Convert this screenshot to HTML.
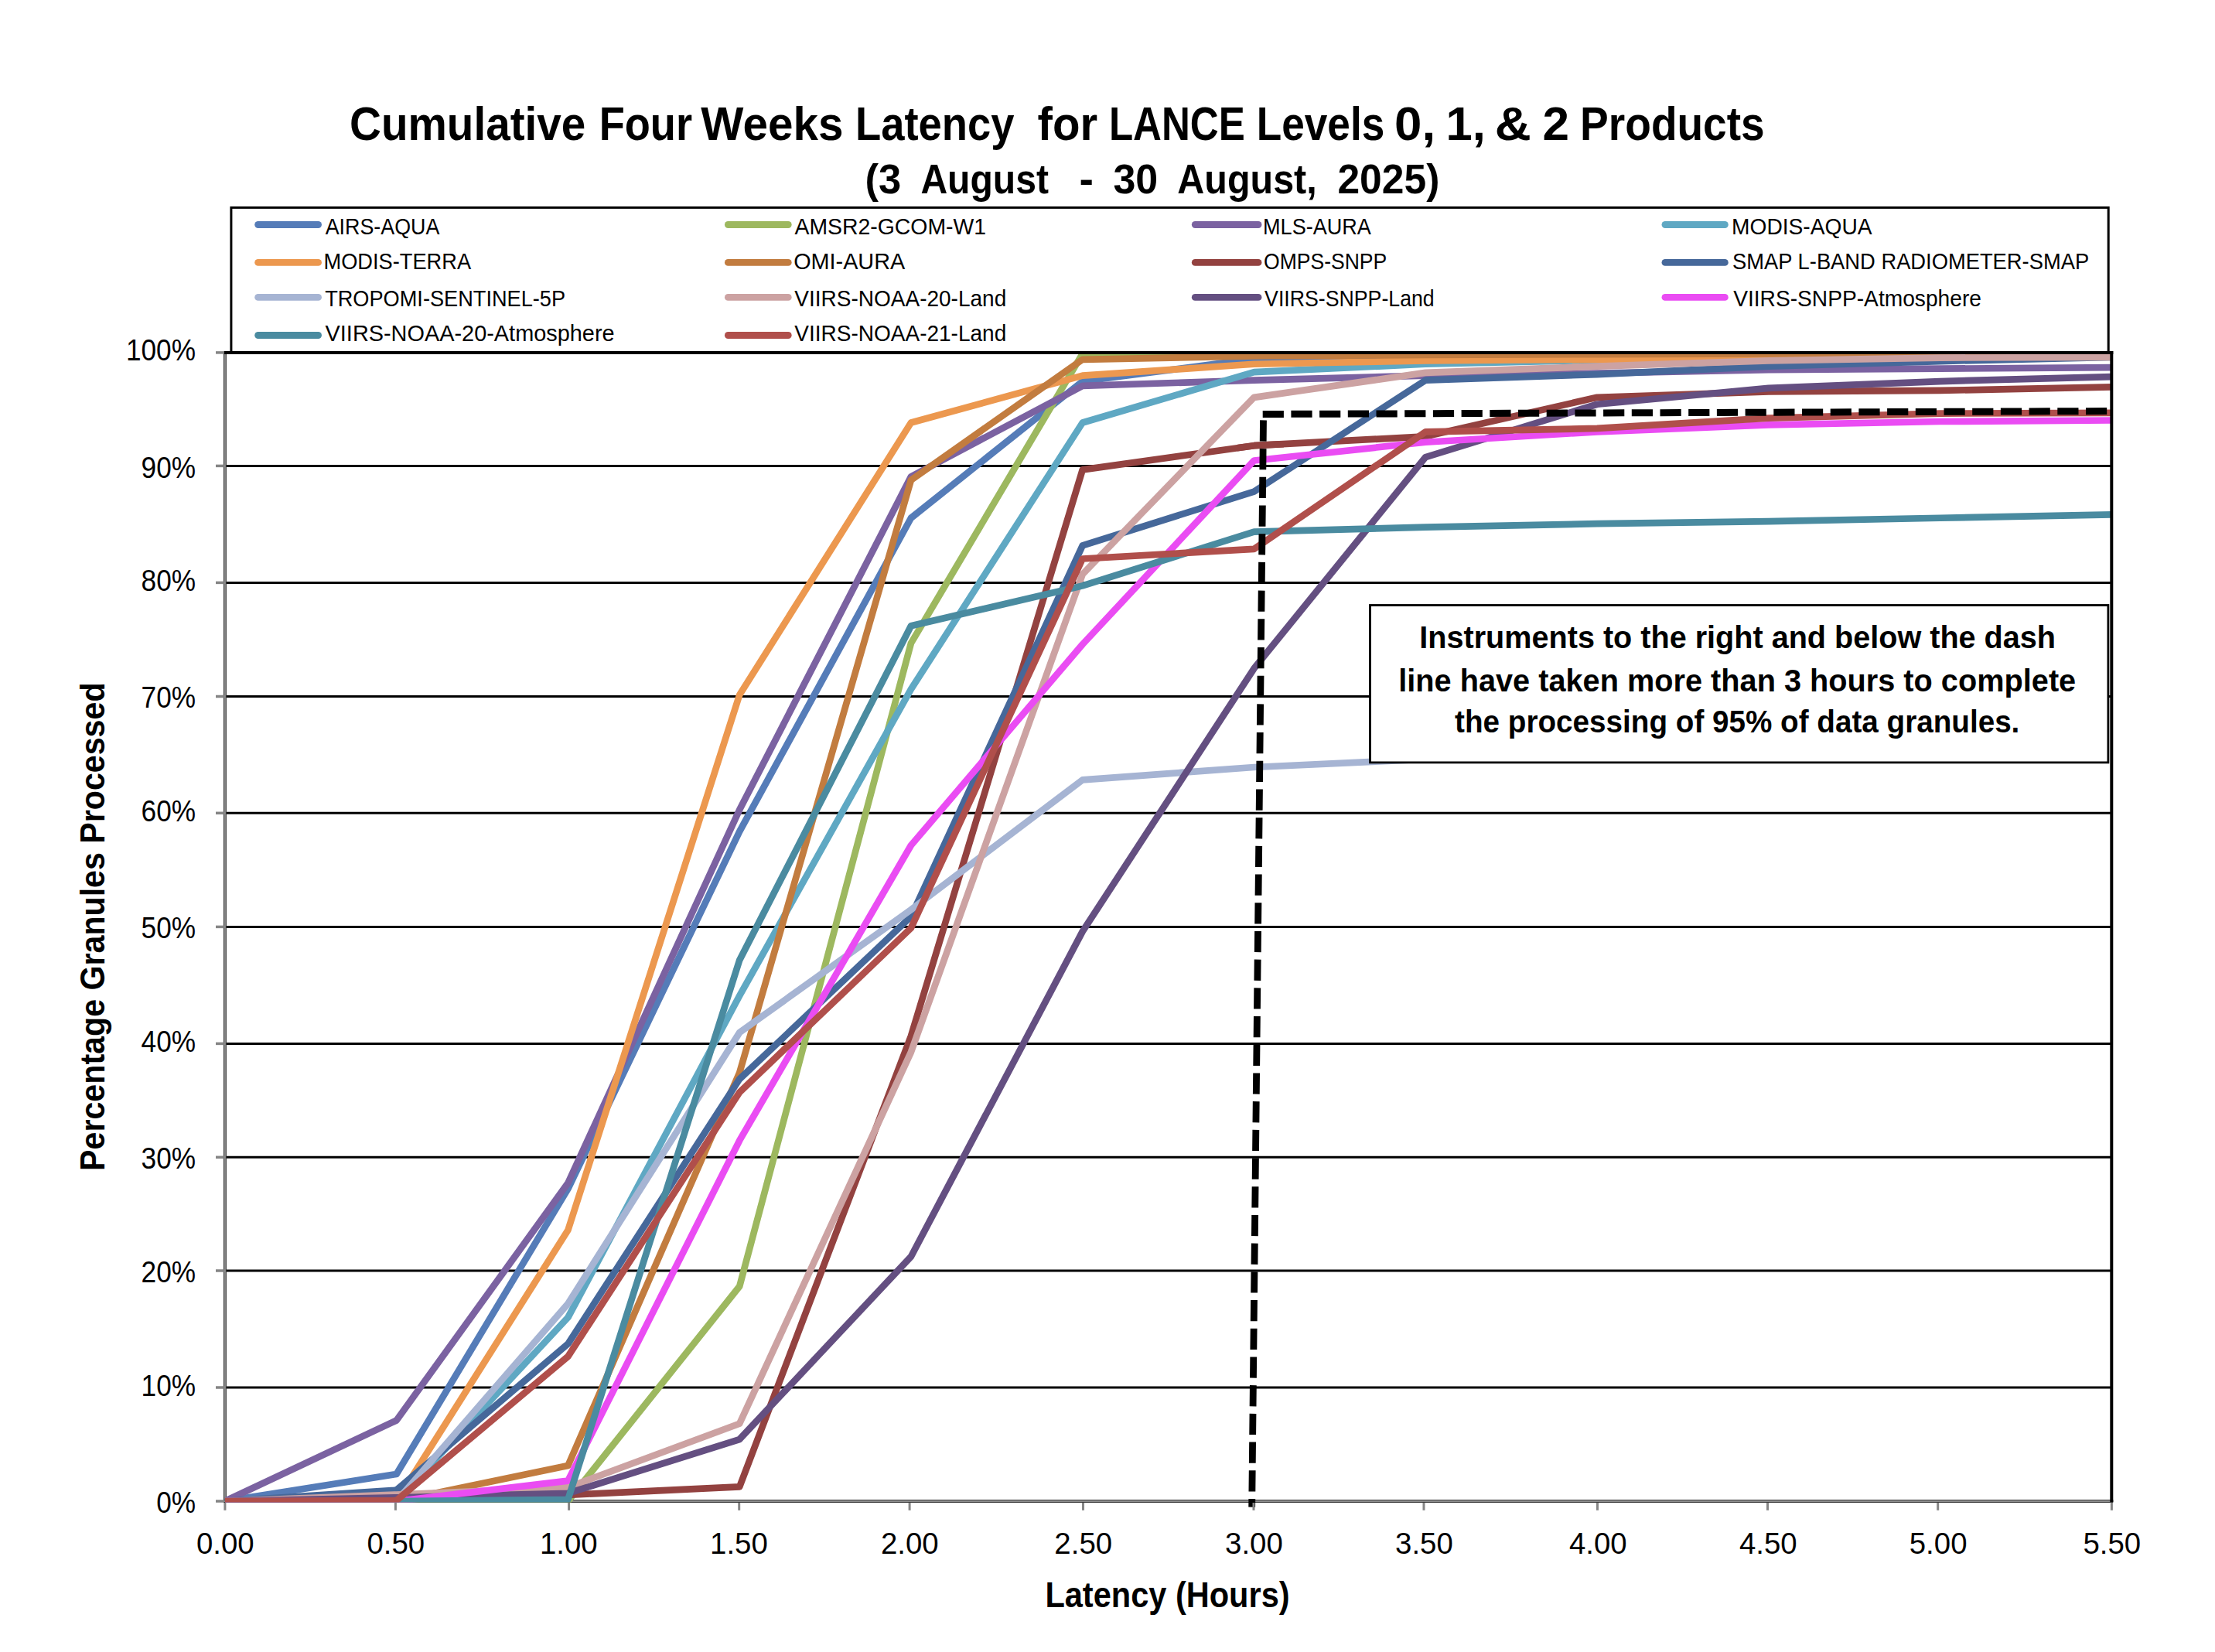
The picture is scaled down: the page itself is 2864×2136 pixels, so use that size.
<!DOCTYPE html><html><head><meta charset="utf-8"><style>html,body{margin:0;padding:0;background:#fff;}svg{display:block;}text{font-family:"Liberation Sans",sans-serif;white-space:pre;}</style></head><body>
<svg width="2864" height="2136" viewBox="0 0 2864 2136">
<rect x="0" y="0" width="2864" height="2136" fill="#ffffff"/>
<text transform="translate(452.03 181.20) scale(0.9238 1)" font-size="61.30" font-weight="bold" fill="#000">Cumulative</text>
<text transform="translate(774.68 181.20) scale(0.8837 1)" font-size="61.30" font-weight="bold" fill="#000">Four</text>
<text transform="translate(906.30 181.20) scale(0.9535 1)" font-size="61.30" font-weight="bold" fill="#000">Weeks</text>
<text transform="translate(1105.96 181.20) scale(0.8873 1)" font-size="61.30" font-weight="bold" fill="#000">Latency</text>
<text transform="translate(1341.53 181.20) scale(0.9487 1)" font-size="61.30" font-weight="bold" fill="#000">for</text>
<text transform="translate(1433.88 181.20) scale(0.8332 1)" font-size="61.30" font-weight="bold" fill="#000">LANCE</text>
<text transform="translate(1624.74 181.20) scale(0.8674 1)" font-size="61.30" font-weight="bold" fill="#000">Levels</text>
<text transform="translate(1803.06 181.20) scale(1.0372 1)" font-size="61.30" font-weight="bold" fill="#000">0,</text>
<text transform="translate(1869.61 181.20) scale(1.0042 1)" font-size="61.30" font-weight="bold" fill="#000">1,</text>
<text transform="translate(1932.67 181.20) scale(1.0622 1)" font-size="61.30" font-weight="bold" fill="#000">&amp;</text>
<text transform="translate(1994.43 181.20) scale(1.0127 1)" font-size="61.30" font-weight="bold" fill="#000">2</text>
<text transform="translate(2043.12 181.20) scale(0.8981 1)" font-size="61.30" font-weight="bold" fill="#000">Products</text>
<text transform="translate(1118.47 249.90) scale(0.9799 1)" font-size="53.62" font-weight="bold" fill="#000">(3</text>
<text transform="translate(1190.40 249.90) scale(0.8966 1)" font-size="53.62" font-weight="bold" fill="#000">August</text>
<text transform="translate(1395.39 249.90) scale(1.0312 1)" font-size="53.62" font-weight="bold" fill="#000">-</text>
<text transform="translate(1439.40 249.90) scale(0.9690 1)" font-size="53.62" font-weight="bold" fill="#000">30</text>
<text transform="translate(1522.29 249.90) scale(0.9042 1)" font-size="53.62" font-weight="bold" fill="#000">August,</text>
<text transform="translate(1729.39 249.90) scale(0.9622 1)" font-size="53.62" font-weight="bold" fill="#000">2025)</text>
<line x1="290.9" y1="602.4" x2="2730.3" y2="602.4" stroke="#000" stroke-width="3"/>
<line x1="290.9" y1="753.4" x2="2730.3" y2="753.4" stroke="#000" stroke-width="3"/>
<line x1="290.9" y1="900.5" x2="2730.3" y2="900.5" stroke="#000" stroke-width="3"/>
<line x1="290.9" y1="1051.3" x2="2730.3" y2="1051.3" stroke="#000" stroke-width="3"/>
<line x1="290.9" y1="1198.4" x2="2730.3" y2="1198.4" stroke="#000" stroke-width="3"/>
<line x1="290.9" y1="1349.4" x2="2730.3" y2="1349.4" stroke="#000" stroke-width="3"/>
<line x1="290.9" y1="1496.3" x2="2730.3" y2="1496.3" stroke="#000" stroke-width="3"/>
<line x1="290.9" y1="1643.0" x2="2730.3" y2="1643.0" stroke="#000" stroke-width="3"/>
<line x1="290.9" y1="1794.0" x2="2730.3" y2="1794.0" stroke="#000" stroke-width="3"/>
<line x1="290.9" y1="455.9" x2="290.9" y2="1943.0" stroke="#3a3a3a" stroke-width="4"/>
<line x1="290.9" y1="455.9" x2="290.9" y2="1943.0" stroke="#8c8c8c" stroke-width="2"/>
<line x1="288.9" y1="1941.0" x2="2732.3" y2="1941.0" stroke="#3a3a3a" stroke-width="4"/>
<line x1="288.9" y1="1941.0" x2="2732.3" y2="1941.0" stroke="#8c8c8c" stroke-width="2"/>
<defs><clipPath id="pc"><rect x="290.9" y="455.9" width="2439.4" height="1486.6"/></clipPath></defs>
<g clip-path="url(#pc)">
<polyline points="290.90,1941.00 512.66,1905.95 734.43,1537.05 956.19,1075.19 1177.95,669.75 1399.72,493.03 1621.48,464.07 1843.25,461.84 2065.01,460.36 2286.77,458.87 2508.54,458.13 2730.30,457.39" fill="none" stroke="#557CB8" stroke-width="8.7" stroke-linejoin="round" stroke-linecap="butt"/>
<polyline points="290.90,1941.00 512.66,1941.00 734.43,1941.00 956.19,1663.29 1177.95,831.63 1399.72,457.39 1621.48,455.90 1843.25,455.90 2065.01,455.90 2286.77,455.90 2508.54,455.90 2730.30,455.90" fill="none" stroke="#9DB85F" stroke-width="8.7" stroke-linejoin="round" stroke-linecap="butt"/>
<polyline points="290.90,1941.00 512.66,1836.45 734.43,1529.63 956.19,1046.97 1177.95,616.29 1399.72,498.97 1621.48,491.54 1843.25,485.60 2065.01,482.63 2286.77,478.18 2508.54,476.69 2730.30,475.21" fill="none" stroke="#7B62A1" stroke-width="8.7" stroke-linejoin="round" stroke-linecap="butt"/>
<polyline points="290.90,1941.00 512.66,1941.00 734.43,1703.38 956.19,1287.56 1177.95,891.03 1399.72,546.49 1621.48,481.15 1843.25,470.75 2065.01,465.55 2286.77,464.07 2508.54,462.58 2730.30,460.36" fill="none" stroke="#5FA8C3" stroke-width="8.7" stroke-linejoin="round" stroke-linecap="butt"/>
<polyline points="290.90,1941.00 512.66,1941.00 734.43,1590.52 956.19,898.46 1177.95,546.49 1399.72,485.60 1621.48,470.75 1843.25,466.30 2065.01,464.81 2286.77,463.33 2508.54,461.84 2730.30,460.36" fill="none" stroke="#EC984F" stroke-width="8.7" stroke-linejoin="round" stroke-linecap="butt"/>
<polyline points="290.90,1941.00 512.66,1941.00 734.43,1894.96 956.19,1387.06 1177.95,620.75 1399.72,464.81 1621.48,460.36 1843.25,458.87 2065.01,458.13 2286.77,457.39 2508.54,457.39 2730.30,457.39" fill="none" stroke="#C27C3F" stroke-width="8.7" stroke-linejoin="round" stroke-linecap="butt"/>
<polyline points="290.90,1941.00 512.66,1936.54 734.43,1932.83 956.19,1922.44 1177.95,1339.53 1399.72,607.38 1621.48,576.19 1843.25,564.31 2065.01,513.82 2286.77,506.39 2508.54,504.91 2730.30,500.45" fill="none" stroke="#934240" stroke-width="8.7" stroke-linejoin="round" stroke-linecap="butt"/>
<polyline points="290.90,1941.00 512.66,1926.59 734.43,1737.54 956.19,1395.23 1177.95,1185.08 1399.72,705.40 1621.48,635.60 1843.25,491.54 2065.01,484.12 2286.77,473.72 2508.54,467.04 2730.30,461.84" fill="none" stroke="#46689A" stroke-width="8.7" stroke-linejoin="round" stroke-linecap="butt"/>
<polyline points="290.90,1941.00 512.66,1941.00 734.43,1685.56 956.19,1335.08 1177.95,1176.17 1399.72,1008.36 1621.48,992.02 1843.25,981.63 2065.01,975.68" fill="none" stroke="#A6B4D3" stroke-width="8.7" stroke-linejoin="round" stroke-linecap="butt"/>
<polyline points="290.90,1941.00 512.66,1932.53 734.43,1923.18 956.19,1840.76 1177.95,1360.33 1399.72,742.52 1621.48,513.82 1843.25,481.89 2065.01,473.72 2286.77,466.30 2508.54,462.58 2730.30,461.84" fill="none" stroke="#CCA2A2" stroke-width="8.7" stroke-linejoin="round" stroke-linecap="butt"/>
<polyline points="290.90,1941.00 512.66,1936.25 734.43,1930.75 956.19,1861.10 1177.95,1624.67 1399.72,1204.39 1621.48,864.30 1843.25,591.04 2065.01,522.73 2286.77,501.94 2508.54,493.03 2730.30,487.09" fill="none" stroke="#644F81" stroke-width="8.7" stroke-linejoin="round" stroke-linecap="butt"/>
<polyline points="290.90,1941.00 512.66,1941.00 734.43,1914.57 956.19,1474.68 1177.95,1093.01 1399.72,833.12 1621.48,595.50 1843.25,571.74 2065.01,558.37 2286.77,549.46 2508.54,545.01 2730.30,543.52" fill="none" stroke="#EA4CF3" stroke-width="8.7" stroke-linejoin="round" stroke-linecap="butt"/>
<polyline points="290.90,1941.00 512.66,1941.00 734.43,1938.77 956.19,1241.52 1177.95,809.35 1399.72,757.38 1621.48,687.58 1843.25,681.64 2065.01,677.18 2286.77,674.21 2508.54,669.75 2730.30,665.30" fill="none" stroke="#4A8BA0" stroke-width="8.7" stroke-linejoin="round" stroke-linecap="butt"/>
<polyline points="290.90,1941.00 512.66,1940.11 734.43,1753.88 956.19,1412.30 1177.95,1199.94 1399.72,722.48 1621.48,709.85 1843.25,558.37 2065.01,553.92 2286.77,540.55 2508.54,534.61 2730.30,533.87" fill="none" stroke="#B04F4B" stroke-width="8.7" stroke-linejoin="round" stroke-linecap="butt"/>
</g>
<line x1="1633.5" y1="543.4" x2="1618.7" y2="1948.6" stroke="#000" stroke-width="8.8" stroke-dasharray="27.2 9.5"/>
<line x1="1632.7" y1="535.5" x2="2727" y2="531.6" stroke="#000" stroke-width="9.0" stroke-dasharray="27.2 9.5"/>
<g><clipPath id="oc"><rect x="1600" y="540" width="60" height="60"/></clipPath></g>
<g clip-path="url(#oc)"><polyline points="290.90,1941.00 512.66,1936.54 734.43,1932.83 956.19,1922.44 1177.95,1339.53 1399.72,607.38 1621.48,576.19 1843.25,564.31 2065.01,513.82 2286.77,506.39 2508.54,504.91 2730.30,500.45" fill="none" stroke="#934240" stroke-width="8.7" stroke-linejoin="round" stroke-linecap="butt"/></g>
<line x1="289.4" y1="455.9" x2="2732.3" y2="455.9" stroke="#000" stroke-width="4"/>
<line x1="2730.3" y1="453.9" x2="2730.3" y2="1942.0" stroke="#000" stroke-width="4"/>
<line x1="290.9" y1="1943.0" x2="290.9" y2="1952.8" stroke="#858585" stroke-width="3"/>
<line x1="511.4" y1="1943.0" x2="511.4" y2="1952.8" stroke="#858585" stroke-width="3"/>
<line x1="735.6" y1="1943.0" x2="735.6" y2="1952.8" stroke="#858585" stroke-width="3"/>
<line x1="955.7" y1="1943.0" x2="955.7" y2="1952.8" stroke="#858585" stroke-width="3"/>
<line x1="1176.1" y1="1943.0" x2="1176.1" y2="1952.8" stroke="#858585" stroke-width="3"/>
<line x1="1400.5" y1="1943.0" x2="1400.5" y2="1952.8" stroke="#858585" stroke-width="3"/>
<line x1="1621.0" y1="1943.0" x2="1621.0" y2="1952.8" stroke="#858585" stroke-width="3"/>
<line x1="1841.0" y1="1943.0" x2="1841.0" y2="1952.8" stroke="#858585" stroke-width="3"/>
<line x1="2065.5" y1="1943.0" x2="2065.5" y2="1952.8" stroke="#858585" stroke-width="3"/>
<line x1="2285.5" y1="1943.0" x2="2285.5" y2="1952.8" stroke="#858585" stroke-width="3"/>
<line x1="2505.7" y1="1943.0" x2="2505.7" y2="1952.8" stroke="#858585" stroke-width="3"/>
<line x1="2730.4" y1="1943.0" x2="2730.4" y2="1952.8" stroke="#858585" stroke-width="3"/>
<line x1="279" y1="455.9" x2="289.9" y2="455.9" stroke="#858585" stroke-width="3.5"/>
<line x1="279" y1="602.4" x2="289.9" y2="602.4" stroke="#858585" stroke-width="3.5"/>
<line x1="279" y1="753.4" x2="289.9" y2="753.4" stroke="#858585" stroke-width="3.5"/>
<line x1="279" y1="900.5" x2="289.9" y2="900.5" stroke="#858585" stroke-width="3.5"/>
<line x1="279" y1="1051.3" x2="289.9" y2="1051.3" stroke="#858585" stroke-width="3.5"/>
<line x1="279" y1="1198.4" x2="289.9" y2="1198.4" stroke="#858585" stroke-width="3.5"/>
<line x1="279" y1="1349.4" x2="289.9" y2="1349.4" stroke="#858585" stroke-width="3.5"/>
<line x1="279" y1="1496.3" x2="289.9" y2="1496.3" stroke="#858585" stroke-width="3.5"/>
<line x1="279" y1="1643.0" x2="289.9" y2="1643.0" stroke="#858585" stroke-width="3.5"/>
<line x1="279" y1="1794.0" x2="289.9" y2="1794.0" stroke="#858585" stroke-width="3.5"/>
<line x1="279" y1="1941.0" x2="289.9" y2="1941.0" stroke="#858585" stroke-width="3.5"/>
<rect x="298.9" y="268.4" width="2427.3" height="187" fill="none" stroke="#000" stroke-width="3"/>
<line x1="333.7" y1="290.5" x2="411.5" y2="290.5" stroke="#557CB8" stroke-width="8.9" stroke-linecap="round"/>
<text transform="translate(420.70 302.70) scale(0.9173 1)" font-size="29.28" font-weight="normal" fill="#000">AIRS-AQUA</text>
<line x1="941.4" y1="290.5" x2="1019.2" y2="290.5" stroke="#9DB85F" stroke-width="8.9" stroke-linecap="round"/>
<text transform="translate(1027.50 302.70) scale(0.9698 1)" font-size="29.28" font-weight="normal" fill="#000">AMSR2-GCOM-W1</text>
<line x1="1545.3000000000002" y1="290.5" x2="1627.0" y2="290.5" stroke="#7B62A1" stroke-width="8.9" stroke-linecap="round"/>
<text transform="translate(1633.04 302.70) scale(0.9243 1)" font-size="29.28" font-weight="normal" fill="#000">MLS-AURA</text>
<line x1="2153.0" y1="290.5" x2="2230.2999999999997" y2="290.5" stroke="#5FA8C3" stroke-width="8.9" stroke-linecap="round"/>
<text transform="translate(2239.05 302.70) scale(0.9617 1)" font-size="29.28" font-weight="normal" fill="#000">MODIS-AQUA</text>
<line x1="333.7" y1="339.4" x2="411.5" y2="339.4" stroke="#EC984F" stroke-width="8.9" stroke-linecap="round"/>
<text transform="translate(418.52 347.90) scale(0.9300 1)" font-size="29.28" font-weight="normal" fill="#000">MODIS-TERRA</text>
<line x1="941.4" y1="339.4" x2="1019.2" y2="339.4" stroke="#C27C3F" stroke-width="8.9" stroke-linecap="round"/>
<text transform="translate(1026.20 347.90) scale(0.9837 1)" font-size="29.28" font-weight="normal" fill="#000">OMI-AURA</text>
<line x1="1545.3000000000002" y1="339.4" x2="1627.0" y2="339.4" stroke="#934240" stroke-width="8.9" stroke-linecap="round"/>
<text transform="translate(1634.01 347.90) scale(0.9065 1)" font-size="29.28" font-weight="normal" fill="#000">OMPS-SNPP</text>
<line x1="2153.0" y1="339.4" x2="2230.2999999999997" y2="339.4" stroke="#46689A" stroke-width="8.9" stroke-linecap="round"/>
<text transform="translate(2240.07 347.90) scale(0.9336 1)" font-size="29.28" font-weight="normal" fill="#000">SMAP L-BAND RADIOMETER-SMAP</text>
<line x1="333.7" y1="384.4" x2="411.5" y2="384.4" stroke="#A6B4D3" stroke-width="8.9" stroke-linecap="round"/>
<text transform="translate(420.16 396.40) scale(0.9279 1)" font-size="29.28" font-weight="normal" fill="#000">TROPOMI-SENTINEL-5P</text>
<line x1="941.4" y1="384.4" x2="1019.2" y2="384.4" stroke="#CCA2A2" stroke-width="8.9" stroke-linecap="round"/>
<text transform="translate(1027.36 396.40) scale(0.9565 1)" font-size="29.28" font-weight="normal" fill="#000">VIIRS-NOAA-20-Land</text>
<line x1="1545.3000000000002" y1="384.4" x2="1627.0" y2="384.4" stroke="#644F81" stroke-width="8.9" stroke-linecap="round"/>
<text transform="translate(1635.07 396.40) scale(0.9123 1)" font-size="29.28" font-weight="normal" fill="#000">VIIRS-SNPP-Land</text>
<line x1="2153.0" y1="384.4" x2="2230.2999999999997" y2="384.4" stroke="#EA4CF3" stroke-width="8.9" stroke-linecap="round"/>
<text transform="translate(2241.16 396.40) scale(0.9618 1)" font-size="29.28" font-weight="normal" fill="#000">VIIRS-SNPP-Atmosphere</text>
<line x1="333.7" y1="433.5" x2="411.5" y2="433.5" stroke="#4A8BA0" stroke-width="8.9" stroke-linecap="round"/>
<text transform="translate(420.56 441.10) scale(0.9869 1)" font-size="29.28" font-weight="normal" fill="#000">VIIRS-NOAA-20-Atmosphere</text>
<line x1="941.4" y1="433.5" x2="1019.2" y2="433.5" stroke="#B04F4B" stroke-width="8.9" stroke-linecap="round"/>
<text transform="translate(1027.36 441.10) scale(0.9565 1)" font-size="29.28" font-weight="normal" fill="#000">VIIRS-NOAA-21-Land</text>
<text transform="translate(162.90 466.40) scale(0.9237 1)" font-size="38.12" font-weight="normal" fill="#000">100%</text>
<text transform="translate(182.62 618.00) scale(0.9237 1)" font-size="38.12" font-weight="normal" fill="#000">90%</text>
<text transform="translate(182.62 763.80) scale(0.9237 1)" font-size="38.12" font-weight="normal" fill="#000">80%</text>
<text transform="translate(182.62 914.70) scale(0.9237 1)" font-size="38.12" font-weight="normal" fill="#000">70%</text>
<text transform="translate(182.62 1061.70) scale(0.9237 1)" font-size="38.12" font-weight="normal" fill="#000">60%</text>
<text transform="translate(182.62 1212.80) scale(0.9237 1)" font-size="38.12" font-weight="normal" fill="#000">50%</text>
<text transform="translate(182.62 1359.70) scale(0.9237 1)" font-size="38.12" font-weight="normal" fill="#000">40%</text>
<text transform="translate(182.62 1510.50) scale(0.9237 1)" font-size="38.12" font-weight="normal" fill="#000">30%</text>
<text transform="translate(182.62 1657.60) scale(0.9237 1)" font-size="38.12" font-weight="normal" fill="#000">20%</text>
<text transform="translate(182.62 1804.50) scale(0.9237 1)" font-size="38.12" font-weight="normal" fill="#000">10%</text>
<text transform="translate(202.16 1955.70) scale(0.9237 1)" font-size="38.12" font-weight="normal" fill="#000">0%</text>
<text transform="translate(253.96 2008.80) scale(0.9960 1)" font-size="38.55" font-weight="normal" fill="#000">0.00</text>
<text transform="translate(474.46 2008.80) scale(0.9960 1)" font-size="38.55" font-weight="normal" fill="#000">0.50</text>
<text transform="translate(697.99 2008.80) scale(0.9960 1)" font-size="38.55" font-weight="normal" fill="#000">1.00</text>
<text transform="translate(918.09 2008.80) scale(0.9960 1)" font-size="38.55" font-weight="normal" fill="#000">1.50</text>
<text transform="translate(1138.97 2008.80) scale(0.9960 1)" font-size="38.55" font-weight="normal" fill="#000">2.00</text>
<text transform="translate(1363.37 2008.80) scale(0.9960 1)" font-size="38.55" font-weight="normal" fill="#000">2.50</text>
<text transform="translate(1584.06 2008.80) scale(0.9960 1)" font-size="38.55" font-weight="normal" fill="#000">3.00</text>
<text transform="translate(1804.06 2008.80) scale(0.9960 1)" font-size="38.55" font-weight="normal" fill="#000">3.50</text>
<text transform="translate(2028.95 2008.80) scale(0.9960 1)" font-size="38.55" font-weight="normal" fill="#000">4.00</text>
<text transform="translate(2248.95 2008.80) scale(0.9960 1)" font-size="38.55" font-weight="normal" fill="#000">4.50</text>
<text transform="translate(2468.76 2008.80) scale(0.9960 1)" font-size="38.55" font-weight="normal" fill="#000">5.00</text>
<text transform="translate(2693.46 2008.80) scale(0.9960 1)" font-size="38.55" font-weight="normal" fill="#000">5.50</text>
<text transform="translate(135.00 1513.88) rotate(-90) scale(0.9164 1)" font-size="44.93" font-weight="bold" fill="#000">Percentage Granules Processed</text>
<text transform="translate(1351.40 2077.90) scale(0.9069 1)" font-size="45.80" font-weight="bold" fill="#000">Latency (Hours)</text>
<rect x="1771.5" y="782.5" width="954.4" height="203.4" fill="#fff" stroke="#000" stroke-width="2.8"/>
<text transform="translate(1835.32 837.70) scale(0.9659 1)" font-size="41.01" font-weight="bold" fill="#000">Instruments to the right and below the dash</text>
<text transform="translate(1808.22 894.40) scale(0.9684 1)" font-size="41.01" font-weight="bold" fill="#000">line have taken more than 3 hours to complete</text>
<text transform="translate(1881.11 947.40) scale(0.9427 1)" font-size="41.01" font-weight="bold" fill="#000">the processing of 95% of data granules.</text>
</svg></body></html>
